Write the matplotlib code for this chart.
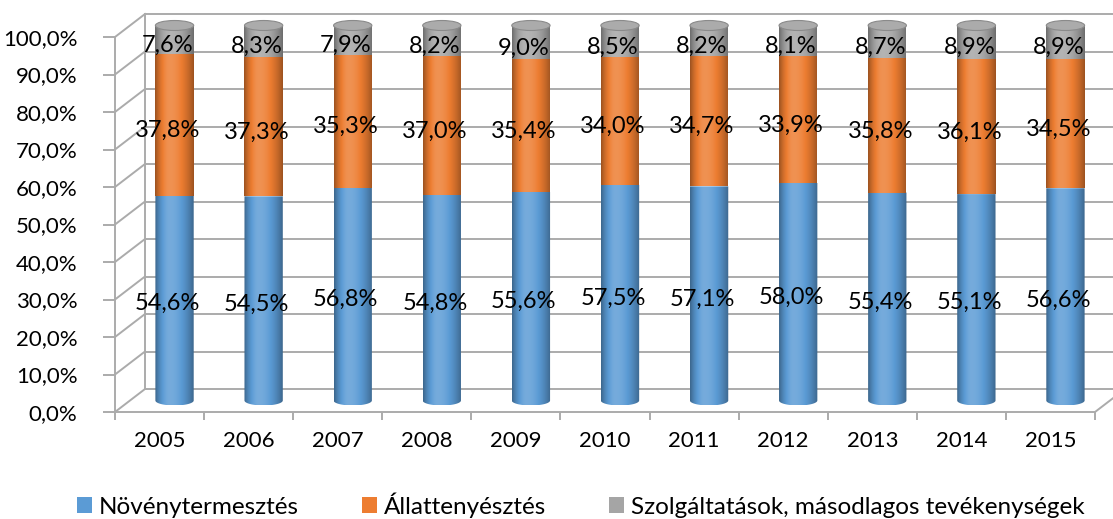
import matplotlib
matplotlib.use('Agg')
import matplotlib.pyplot as plt
import numpy as np
from matplotlib.colors import to_rgb
from matplotlib.patches import Polygon, Ellipse, Patch
from matplotlib.transforms import ScaledTranslation

plt.rcParams['font.family'] = ['Lato', 'DejaVu Sans']

years = ['2005', '2006', '2007', '2008', '2009', '2010',
         '2011', '2012', '2013', '2014', '2015']
novenytermesztes = [54.6, 54.5, 56.8, 54.8, 55.6, 57.5, 57.1, 58.0, 55.4, 55.1, 56.6]
allattenyesztes = [37.8, 37.3, 35.3, 37.0, 35.4, 34.0, 34.7, 33.9, 35.8, 36.1, 34.5]
szolgaltatasok = [7.6, 8.3, 7.9, 8.2, 9.0, 8.5, 8.2, 8.1, 8.7, 8.9, 8.9]
series_names = ['Növénytermesztés', 'Állattenyésztés',
                'Szolgáltatások, másodlagos tevékenységek']
colors = ['#5B9BD5', '#ED7D31', '#A5A5A5']
yticks = list(range(0, 101, 10))

W, H = 1113, 519
fig = plt.figure(figsize=(W / 100, H / 100), dpi=100)
# front plane of the 3d box
ax = fig.add_axes([115 / W, 1 - 412 / H, 980 / W, 375 / H])
ax.set_xlim(-0.5, len(years) - 0.5)
ax.set_ylim(0, 100)

# depth of the box, in data units
DX_PX, DY_PX = 30, 23
ux = (len(years)) / 980
uy = 100 / 375
ddx, ddy = DX_PX * ux, DY_PX * uy

gc = '#ABABAB'
x0, x1 = -0.5, len(years) - 0.5
for v in yticks:
    # back wall gridline
    ax.plot([x0 + ddx, x1 + ddx], [v + ddy, v + ddy], color=gc, lw=1.4,
            clip_on=False, zorder=1)
    # side wall diagonal
    ax.plot([x0, x0 + ddx], [v, v + ddy], color=gc, lw=1.4, clip_on=False, zorder=1)
ax.plot([x0 + ddx, x0 + ddx], [ddy, 100 + ddy], color=gc, lw=1.4, clip_on=False, zorder=1)
ax.plot([x1, x1 + ddx], [0, ddy], color=gc, lw=1.4, clip_on=False, zorder=1)


def shade(base, n=80):
    u = np.linspace(0, 1, n)
    s = np.where(u < 0.38, 1 - ((u - 0.38) / 0.38) ** 2, 1 - ((u - 0.38) / 0.62) ** 2)
    s = 0.66 + 0.44 * s
    rgb = np.array(to_rgb(base))
    out = np.empty((1, n, 3))
    for i, k in enumerate(s):
        c = rgb * k if k <= 1 else rgb + (1 - rgb) * (k - 1) * 1.6
        out[0, i] = np.clip(c, 0, 1)
    return out


bw = 0.43
eh = 5 * uy
data = [novenytermesztes, allattenyesztes, szolgaltatasok]
for i in range(len(years)):
    total = sum(d[i] for d in data)
    xc = i + ddx / 2
    bottom = ddy / 2
    for k, d in enumerate(data):
        h = d[i] / total * 100
        b, t = bottom, bottom + h
        pts = [(xc - bw / 2, t), (xc + bw / 2, t)]
        if k == 0:
            th = np.linspace(0, np.pi, 40)
            pts += list(zip(xc + bw / 2 * np.cos(th), b - eh * np.sin(th)))
        else:
            pts += [(xc + bw / 2, b), (xc - bw / 2, b)]
        poly = Polygon(pts, closed=True, facecolor='none', edgecolor='none')
        ax.add_patch(poly)
        im = ax.imshow(shade(colors[k]), extent=[xc - bw / 2, xc + bw / 2, b - eh, t],
                       aspect='auto', interpolation='bilinear', zorder=3)
        im.set_clip_path(poly)
        im.set_clip_box(fig.bbox)
        bottom = t
    cap = Ellipse((xc, bottom), bw, 2 * eh, facecolor='#ABABAB', edgecolor='#8A8A8A',
                  lw=0.8, zorder=4, clip_on=False)
    ax.add_patch(cap)

# data labels
lab_tr = ax.transData + ScaledTranslation(0.08, 0.06, fig.dpi_scale_trans)
for i in range(len(years)):
    total = sum(d[i] for d in data)
    bottom = 0
    for d in data:
        h = d[i] / total * 100
        ax.text(i, bottom + h / 2, f'{d[i]:.1f}%'.replace('.', ','), transform=lab_tr,
                ha='center', va='center', fontsize=17, color='black', zorder=6)
        bottom += h

ax.set_xlim(x0, x1)
ax.set_ylim(0, 100)
ax.set_xticks(range(len(years)))
ax.set_xticklabels(years)
ax.set_xticks(np.arange(-0.5, len(years), 1), minor=True)
ax.set_yticks(yticks)
ax.set_yticklabels([f'{v:.1f}%'.replace('.', ',') for v in yticks])
ax.tick_params(axis='x', which='major', length=0, pad=14, labelsize=16)
ax.tick_params(axis='x', which='minor', length=6, color=gc, width=1.4)
ax.tick_params(axis='y', length=9, color=gc, width=1.4, pad=18, labelsize=16)
for s in ['top', 'right']:
    ax.spines[s].set_visible(False)
for s in ['left', 'bottom']:
    ax.spines[s].set_color(gc)
    ax.spines[s].set_linewidth(1.4)
ax.patch.set_visible(False)

handles = [Patch(facecolor=c) for c in colors]
fig.legend(handles, series_names, loc='lower center', bbox_to_anchor=(0.522, -0.04),
           ncol=3, frameon=False, fontsize=17.5, handlelength=0.6, handleheight=0.65,
           handletextpad=0.3, columnspacing=2.6)

fig.savefig('out.png', dpi=100)
